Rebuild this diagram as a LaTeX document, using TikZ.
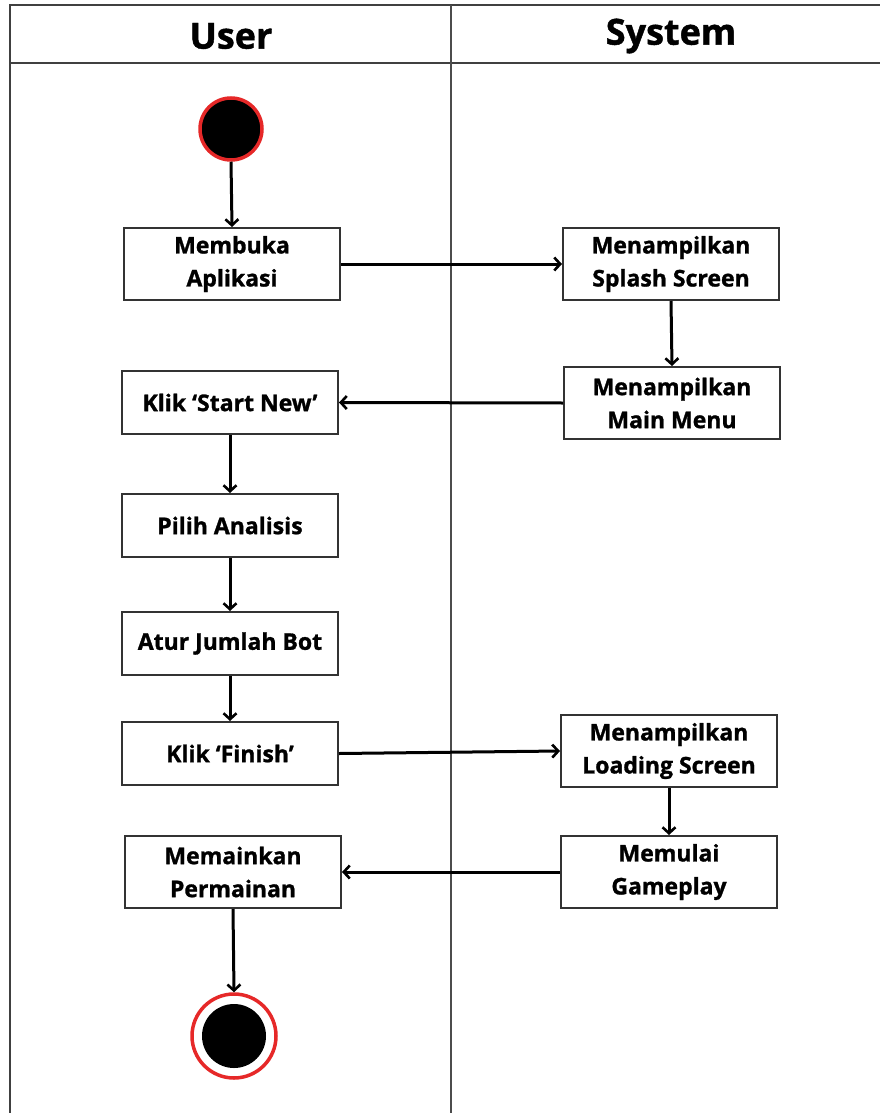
\documentclass[tikz,border=0pt]{standalone}
\usepackage{fontspec}
\setmainfont[BoldFeatures={FakeBold=1.2}]{Open Sans}
\usetikzlibrary{arrows.meta}
\begin{document}
\begin{tikzpicture}[x=1pt,y=-1pt,
  act/.style={draw=black!80, line width=2pt, fill=white, minimum width=216pt, inner sep=0pt,
    align=center, font=\fontsize{23}{33}\selectfont\bfseries},
  tall/.style={act, minimum height=72pt},
  short/.style={act, minimum height=63pt},
  flow/.style={draw=black, line width=3pt, -{Straight Barb[length=6pt,width=13pt,line width=2.6pt]}},
  lane/.style={draw=black!75, line width=2pt},
  hdr/.style={font=\fontsize{36}{42}\selectfont\bfseries}
]
\useasboundingbox (0,0) rectangle (880,1113);
\fill[white] (0,0) rectangle (880,1113);
% swimlane frame
\draw[lane] (10,1113) -- (10,5) -- (880,5);
\draw[lane] (10,63) -- (880,63);
\draw[draw=black!70, line width=2.6pt] (451,5) -- (451,1113);
\node[hdr] (huser) at (231,36) {User};
\node[hdr] (hsys) at (671,36) {System};
% nodes
\node[circle, fill=black, draw={rgb,255:red,230;green,40;blue,40}, line width=3.5pt, minimum size=62pt, inner sep=0pt] (start) at (231,129) {};
\node[tall] (membuka) at (232,264) {Membuka\\Aplikasi};
\node[tall] (splash) at (671,264) {Menampilkan\\Splash Screen};
\node[tall] (mainmenu) at (672,403) {Menampilkan\\Main Menu};
\node[short] (startnew) at (230,402.5) {Klik ‘Start New’};
\node[short] (pilih) at (230,525.5) {Pilih Analisis};
\node[short] (atur) at (230,643.5) {Atur Jumlah Bot};
\node[short] (finish) at (230,753.5) {Klik ‘Finish’};
\node[tall] (loading) at (669,751) {Menampilkan\\Loading Screen};
\node[tall] (memulai) at (669,872) {Memulai\\Gameplay};
\node[tall] (memainkan) at (233,872) {Memainkan\\Permainan};
\node[circle, draw={rgb,255:red,230;green,40;blue,40}, line width=3.5pt, fill=white, minimum size=84pt, inner sep=0pt] (end) at (234,1036) {};
\node[circle, fill=black, minimum size=64pt, inner sep=0pt] (endin) at (234,1036) {};
% flows
\draw[flow] (start.south) -- (membuka.north);
\draw[flow] (membuka.east) -- (splash.west);
\draw[flow] (splash.south) -- (mainmenu.north);
\draw[flow] (mainmenu.west) -- (startnew.east);
\draw[flow] (startnew.south) -- (pilih.north);
\draw[flow] (pilih.south) -- (atur.north);
\draw[flow] (atur.south) -- (finish.north);
\draw[flow] (finish.east) -- (loading.west);
\draw[flow] (loading.south) -- (memulai.north);
\draw[flow] (memulai.west) -- (memainkan.east);
\draw[flow] (memainkan.south) -- (end.north);
\end{tikzpicture}
\end{document}
